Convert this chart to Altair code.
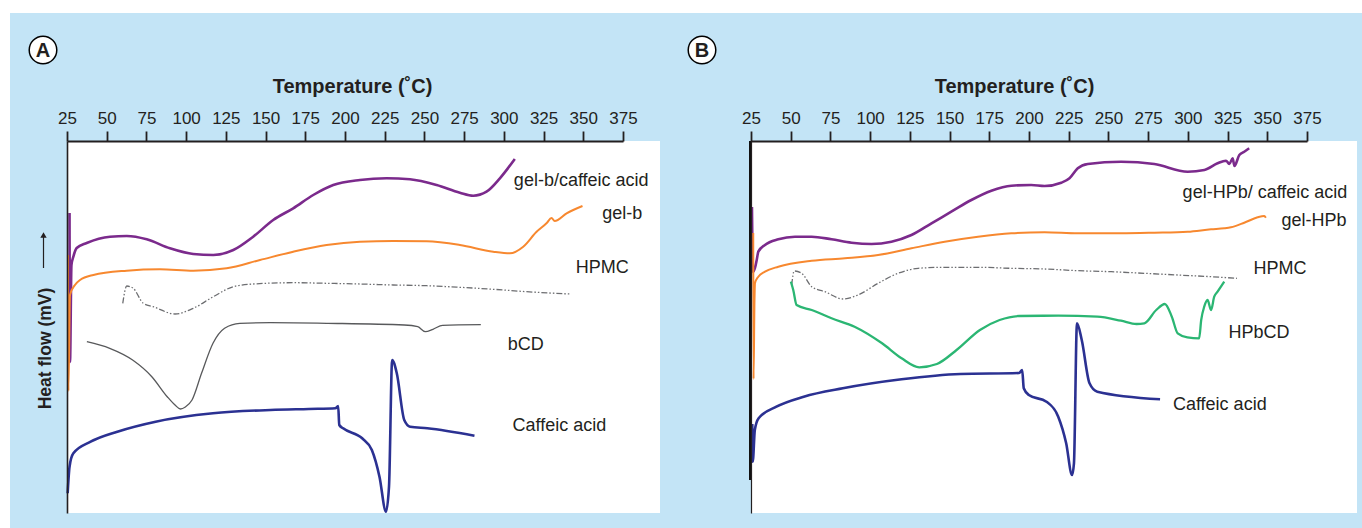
import altair as alt
import pandas as pd

# ---------------- data ----------------
TICKS = [25, 50, 75, 100, 125, 150, 175, 200, 225, 250, 275, 300, 325, 350, 375]

# Panel A  (temperature in degC, heat flow in arbitrary units)
A_GELB_CAF_T = [26.6, 26.9, 27.8, 29.0, 31.1, 37.4, 52.1, 62.6, 75.2, 89.8, 104.5, 117.1, 129.7, 142.2,
                154.8, 167.4, 180.0, 192.6, 209.4, 226.2, 240.9, 257.7, 272.3, 280.7, 289.1, 297.5, 306.9]
A_GELB_CAF_V = [300, 151, 248, 256.3, 265, 270, 276.3, 277, 273.7, 264.7, 259, 258, 263, 276.3,
                293, 304.7, 318, 328, 333, 334.7, 333.7, 328, 320.3, 317.3, 321.3, 334.7, 354]

A_GELB_T = [25.6, 25.9, 26.9, 30.0, 33.2, 41.6, 62.6, 83.5, 104.5, 125.5, 146.5, 167.4, 188.4, 209.4,
            230.3, 251.4, 272.3, 293.3, 303.8, 312.2, 320.6, 327.0, 330.0, 332.0, 339.5, 349.5]
A_GELB_V = [258, 122, 218, 228, 233, 238, 242.3, 243.7, 242.3, 244.7, 253, 261.3, 268, 271.3,
            272, 271.7, 268, 261.3, 259.7, 266.3, 281.3, 290, 295, 292, 299.7, 307]

A_HPMC_T = [60.1, 62.6, 66.7, 73.0, 79.3, 93.0, 104.5, 117.1, 129.7, 142.2, 167.4, 188.4, 209.4, 230.3,
            251.4, 272.3, 293.3, 314.3, 341.6]
A_HPMC_V = [209.7, 227, 224.7, 209.7, 206.3, 199, 204.7, 216.3, 226.3, 229, 230.3, 229.7, 229, 228,
            227.3, 225.7, 223.7, 221.3, 219]

A_BCD_T = [37.5, 51.9, 66.3, 78.4, 88.1, 93.0, 96.4, 99.5, 103.7, 109.7, 116.9, 124.2, 133.8, 153.1,
           189.2, 237.3, 245.8, 250.6, 255.4, 261.4, 285.5]
A_BCD_V = [171.3, 164.7, 153, 136.3, 116.3, 108, 104, 106, 113, 139.7, 169.7, 184.7, 189.7, 190.3,
           189.7, 188, 186.3, 181.3, 183.7, 187.7, 188.3]

A_CAF_T = [25.4, 26.6, 29.0, 39.9, 56.7, 80.8, 116.9, 153.1, 177.2, 194.0, 195.7, 196.4, 198.8, 210.8,
           216.9, 221.7, 225.8, 227.7, 229.7, 232.6, 237.3, 241.0, 251.8, 281.5]
A_CAF_V = [19.7, 46.3, 59.7, 71.3, 81.3, 91.3, 99.7, 103, 104, 104.7, 107, 88, 84.7, 74.7,
           63, 36.3, 1.3, 26.3, 153, 139.7, 93, 86.3, 84.7, 77.3]

# Panel B
B_GELHPB_CAF_T = [25.6, 26.3, 27.5, 28.6, 29.6, 33.8, 42.2, 52.7, 63.2, 75.7, 88.3, 100.9, 113.4, 126.0,
                  138.6, 151.1, 163.7, 176.3, 188.9, 201.4, 209.8, 220.3, 225.5, 230.7, 237.0, 258.0,
                  278.9, 299.9, 310.4, 318.7, 324.0, 326.1, 328.2, 329.3, 332.4, 335.5, 338.6]
B_GELHPB_CAF_V = [306, 241, 245, 253, 261.3, 268, 273.7, 276.3, 276.3, 273.7, 270.3, 269, 271.3, 278,
                  289.7, 301.3, 313, 322.3, 327.3, 328, 327, 330.3, 334.7, 344.7, 349, 351.3,
                  349, 341.3, 343, 349.7, 352.3, 349, 354.7, 347, 358, 361.3, 364.7]

B_GELHPB_T = [26.4, 26.6, 27.2, 27.5, 29.6, 33.8, 42.2, 63.2, 84.1, 105.0, 126.0, 146.9, 167.9, 188.9,
              209.8, 230.7, 258.0, 278.9, 299.9, 314.6, 323.0, 327.1, 335.5, 343.9, 348.1, 349.1]
B_GELHPB_V = [280, 134, 213, 229.7, 236.3, 241.3, 246.3, 252.3, 254.7, 258, 264.7, 271.3, 276.3, 279.7,
              280.7, 279.7, 279.7, 280.3, 281.3, 283.7, 284.7, 285.7, 290.3, 295.7, 297, 295.3]

B_HPMC_T = [50.6, 52.2, 56.9, 63.2, 71.5, 83.0, 92.4, 105.0, 117.6, 130.2, 146.9, 167.9, 188.9, 209.8,
            230.7, 251.7, 272.6, 293.6, 314.6, 330.9]
B_HPMC_V = [228, 242, 239.7, 226.3, 221.3, 214, 218, 229.7, 239.7, 244.7, 245.7, 245.7, 244.7, 244,
            242.3, 241.3, 239.7, 238, 236.3, 234.7]

B_HPBCD_T = [50.1, 51.6, 53.7, 63.2, 75.7, 90.2, 107.5, 119.8, 130.9, 142.0, 154.4, 169.1, 181.5, 193.8,
             218.4, 243.0, 257.9, 267.7, 272.6, 280.1, 285.5, 289.9, 293.6, 299.7, 307.1, 308.4, 310.3,
             312.4, 314.6, 316.6, 318.7, 322.9]
B_HPBCD_V = [231.3, 223, 208, 203, 194.7, 186.3, 169.7, 154.7, 145.7, 149, 163, 183, 193, 197,
             197.3, 196.3, 192.3, 189, 189.7, 203, 209, 196.3, 179.7, 175.7, 174.7, 193, 206.3,
             213, 203, 216.3, 221.3, 231.3]

B_CAF_T = [25.8, 26.1, 27.4, 29.8, 41.0, 58.2, 82.8, 119.8, 156.8, 193.8, 195.7, 196.7, 199.9, 211.0,
           218.4, 223.4, 227.1, 228.3, 230.2, 233.2, 238.1, 243.0, 282.5]
B_CAF_V = [89, 51.3, 83, 94.7, 106.3, 116.3, 124.7, 133.7, 139, 140, 143, 124.7, 118, 111.3,
           96.3, 69.7, 38, 49.7, 189.7, 173, 129.7, 121.3, 113.7]

A_LABELS = ["gel-b/caffeic acid", "gel-b", "HPMC", "bCD", "Caffeic acid"]
A_LABEL_T = [306.3, 361.9, 345.3, 302.4, 305.5]
A_LABEL_V = [332.3, 299, 244.7, 168, 87]

B_LABELS = ["gel-HPb/ caffeic acid", "gel-HPb", "HPMC", "HPbCD", "Caffeic acid"]
B_LABEL_T = [296.7, 358.9, 341.3, 325.6, 290.6]
B_LABEL_V = [319.7, 292.3, 243.7, 179.7, 108]

# ---------------- styles ----------------
BLUE_BG = "#c3e4f6"
TEXT = "#231f20"
FONT = "Liberation Sans"
STYLE = {
    "purple": dict(color="#7b2a8c", strokeWidth=2.6),
    "orange": dict(color="#f7882f", strokeWidth=2.0),
    "hpmc": dict(color="#6d6e71", strokeWidth=1.3, strokeDash=[6, 2, 1.5, 2, 1.5, 2]),
    "bcd": dict(color="#58595b", strokeWidth=1.3),
    "caf": dict(color="#2b3192", strokeWidth=2.6),
    "green": dict(color="#2bb673", strokeWidth=2.3),
}


def x_enc(title_x):
    return alt.X(
        "T:Q",
        scale=alt.Scale(domain=[25, 375], nice=False, zero=False),
        axis=alt.Axis(
            orient="top", values=TICKS, title="Temperature (˚C)", titleX=title_x, titleY=-49,
            titleBaseline="alphabetic", titleFont=FONT, titleFontSize=20, titleFontWeight="bold",
            titleColor=TEXT, labelFont=FONT, labelFontSize=17, labelColor=TEXT, labelPadding=4,
            labelFlush=False, labelOverlap=False, tickSize=10, tickWidth=1.8, tickColor=TEXT,
            domainColor=TEXT, domainWidth=2, grid=False, zindex=2, format="d",
        ),
    )


def y_enc(width):
    return alt.Y(
        "v:Q",
        scale=alt.Scale(domain=[0, 372], nice=False, zero=False),
        axis=alt.Axis(labels=False, ticks=False, title=None, grid=False, domainColor=TEXT,
                      domainWidth=width, zindex=2),
    )


def one():
    return alt.Chart(pd.DataFrame({"k": [0]}))


def panel(series, labels, lab_t, lab_v, white_w, letter, letter_dx, title_x, ydomw):
    layers = []
    layers.append(one().mark_rect(color="white").encode(
        x=alt.value(0), x2=alt.value(white_w), y=alt.value(0), y2=alt.value(372)))
    for name, ts, vs, sty in series:
        df = pd.DataFrame({"T": ts, "v": vs, "i": list(range(len(ts))), "s": name})
        layers.append(alt.Chart(df).mark_line(interpolate="monotone", **STYLE[sty]).encode(
            x=x_enc(title_x), y=y_enc(ydomw), order="i:Q"))
    ldf = pd.DataFrame({"T": lab_t, "v": lab_v, "lab": labels})
    layers.append(alt.Chart(ldf).mark_text(align="left", baseline="middle", font=FONT,
                                           fontSize=18, color=TEXT).encode(
        x=x_enc(title_x), y=y_enc(ydomw), text="lab:N"))
    layers.append(one().mark_point(shape="circle", filled=True, fill="white", stroke="black",
                                   strokeWidth=1.5, opacity=1, size=760).encode(
        x=alt.value(letter_dx), y=alt.value(-91)))
    layers.append(one().mark_text(text=letter, font=FONT, fontWeight="bold", fontSize=20,
                                  color=TEXT, baseline="middle", align="center", dy=1).encode(
        x=alt.value(letter_dx), y=alt.value(-91)))
    return layers


A_series = [
    ("gel-b/caffeic acid", A_GELB_CAF_T, A_GELB_CAF_V, "purple"),
    ("gel-b", A_GELB_T, A_GELB_V, "orange"),
    ("HPMC", A_HPMC_T, A_HPMC_V, "hpmc"),
    ("bCD", A_BCD_T, A_BCD_V, "bcd"),
    ("Caffeic acid", A_CAF_T, A_CAF_V, "caf"),
]
B_series = [
    ("gel-HPb/ caffeic acid", B_GELHPB_CAF_T, B_GELHPB_CAF_V, "purple"),
    ("gel-HPb", B_GELHPB_T, B_GELHPB_V, "orange"),
    ("HPMC", B_HPMC_T, B_HPMC_V, "hpmc"),
    ("HPbCD", B_HPBCD_T, B_HPBCD_V, "green"),
    ("Caffeic acid", B_CAF_T, B_CAF_V, "caf"),
]

# background of the whole figure (drawn first, inside panel A's group)
bg = one().mark_rect(color=BLUE_BG).encode(
    x=alt.value(-57), x2=alt.value(1295), y=alt.value(-128), y2=alt.value(387))

heat_title = one().mark_text(text="Heat flow (mV)", angle=270, font=FONT, fontWeight="bold",
                             fontSize=17.5, color=TEXT, baseline="middle", align="center").encode(
    x=alt.value(-21), y=alt.value(207.5))
arrow_line = one().mark_rule(color=TEXT, strokeWidth=1.2).encode(
    x=alt.value(-23.5), y=alt.value(94), y2=alt.value(127))
arrow_head = one().mark_point(shape="triangle-up", filled=True, color=TEXT, opacity=1, size=40).encode(
    x=alt.value(-23.5), y=alt.value(94))

panelA = alt.layer(bg, *panel(A_series, A_LABELS, A_LABEL_T, A_LABEL_V, 593, "A", -24, 285, 1.6),
                   heat_title, arrow_line, arrow_head).properties(width=556, height=372)

thick_left = one().mark_rule(color="#111111", strokeWidth=3).encode(
    x=alt.value(-0.5), y=alt.value(0), y2=alt.value(339))
panelB = alt.layer(*panel(B_series, B_LABELS, B_LABEL_T, B_LABEL_V, 606, "B", -49, 263, 1.2),
                   thick_left).properties(width=556, height=372)

chart = alt.hconcat(panelA, panelB, spacing=128, bounds="flush").properties(
    padding={"left": 10, "top": 13, "right": 0, "bottom": 0}, background="white"
).configure_view(stroke=None)

chart.save("out.html", embed_options={"renderer": "svg", "actions": False})
